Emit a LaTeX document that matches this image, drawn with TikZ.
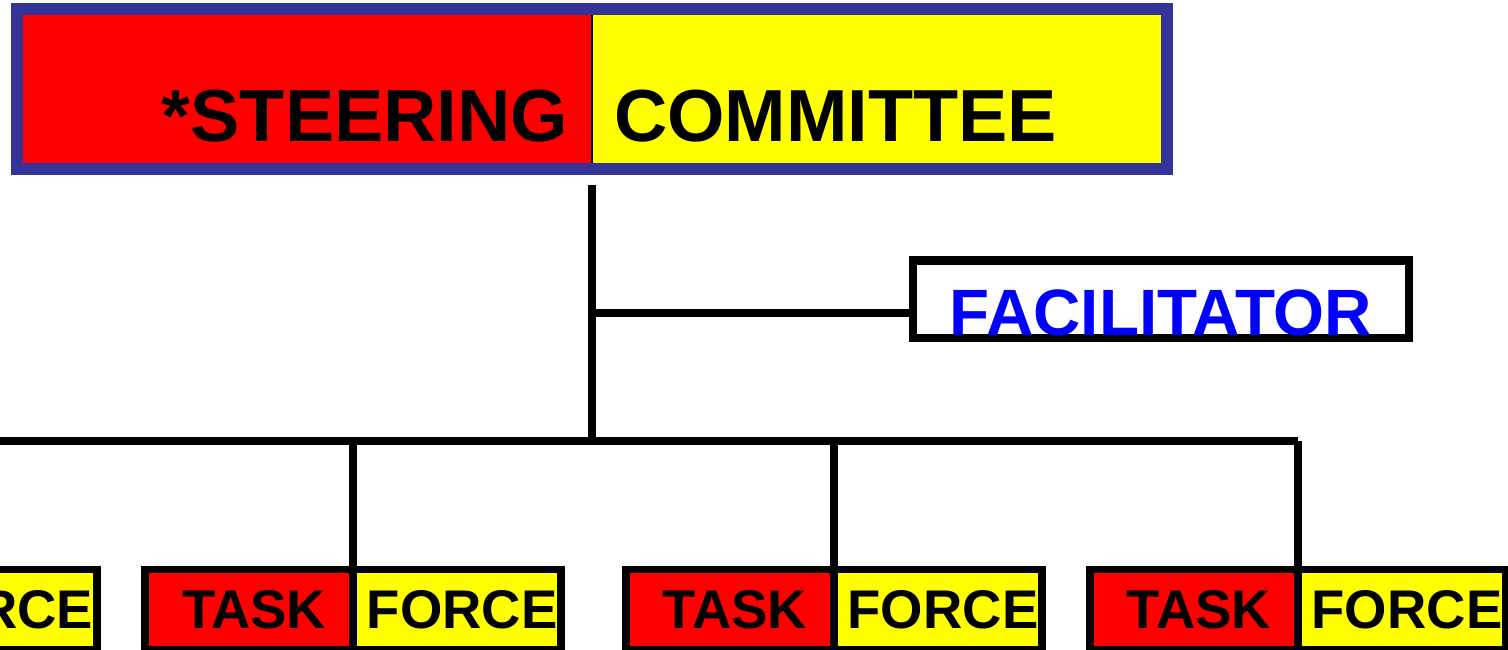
\documentclass[tikz,border=0pt]{standalone}
\usepackage{fontspec}
\setmainfont{Liberation Sans}
\usetikzlibrary{positioning}
\definecolor{steerblue}{RGB}{52,52,152}
\definecolor{red}{RGB}{255,0,0}
\definecolor{yellow}{RGB}{255,255,0}
\definecolor{blue}{RGB}{0,0,255}

\begin{document}
\begin{tikzpicture}[
  conn/.style={line width=0.16cm},
  half/.style={inner sep=0, outer sep=0, minimum width=11.38cm, minimum height=2.96cm,
    text height=2.11cm, text depth=0cm, font=\fontsize{42}{48}\selectfont\bfseries},
  taskbox/.style={draw, line width=0.15cm, fill=red, inner sep=0, outer sep=0,
    minimum width=4.16cm, minimum height=1.6cm, font=\fontsize{31}{36}\selectfont\bfseries},
  forcebox/.style={taskbox, fill=yellow}]
\useasboundingbox (0,0) rectangle (30.16,13);
\clip (0,0) rectangle (30.16,13);

% top box, split in two halves
\node (steer) [half, fill=red, inner xsep=0.48cm, text width=10.42cm, align=right] at (6.15,11.22) {*STEERING};
\node (comm) [half, fill=yellow, inner xsep=0.44cm, text width=10.5cm, align=left, right=0pt of steer] {COMMITTEE};
\draw[line width=0.04cm] (steer.north east) -- (steer.south east);
\draw[line width=0.24cm, steerblue] ([shift={(-0.12,0.12)}]steer.north west) rectangle ([shift={(0.12,-0.12)}]comm.south east);

\node (fac) [draw, line width=0.17cm, inner sep=0, minimum width=9.92cm, minimum height=1.55cm,
  text height=1.46cm, text depth=0cm, text=blue, font=\fontsize{37.3}{42}\selectfont\bfseries] at (23.22,7.015) {FACILITATOR};

% task forces along the bottom
\node (t1) [taskbox] at (-4.30,0.808) {\hspace{0.2cm}TASK};
\node (f1) [forcebox, right=0pt of t1] {\hspace{0.2cm}FORCE};
\node (t2) [taskbox] at (4.984,0.808) {\hspace{0.2cm}TASK};
\node (f2) [forcebox, right=0pt of t2] {\hspace{0.2cm}FORCE};
\node (t3) [taskbox] at (14.6,0.808) {\hspace{0.2cm}TASK};
\node (f3) [forcebox, right=0pt of t3] {\hspace{0.2cm}FORCE};
\node (t4) [taskbox] at (23.88,0.808) {\hspace{0.2cm}TASK};
\node (f4) [forcebox, right=0pt of t4] {\hspace{0.2cm}FORCE};

\coordinate (bus) at (11.86,4.18);
\coordinate (tee) at (11.86,6.74);

\draw[conn] ([yshift=-0.44cm]steer.south east) -- (steer.south east |- bus);
\draw[conn] (tee) -- (tee -| fac.west);
\draw[conn] (t1.north east |- bus) -- (t4.north east |- bus);
\foreach \t in {t1,t2,t3,t4}
  \draw[conn] (\t.north east |- bus) -- (\t.north east);
\end{tikzpicture}
\end{document}
